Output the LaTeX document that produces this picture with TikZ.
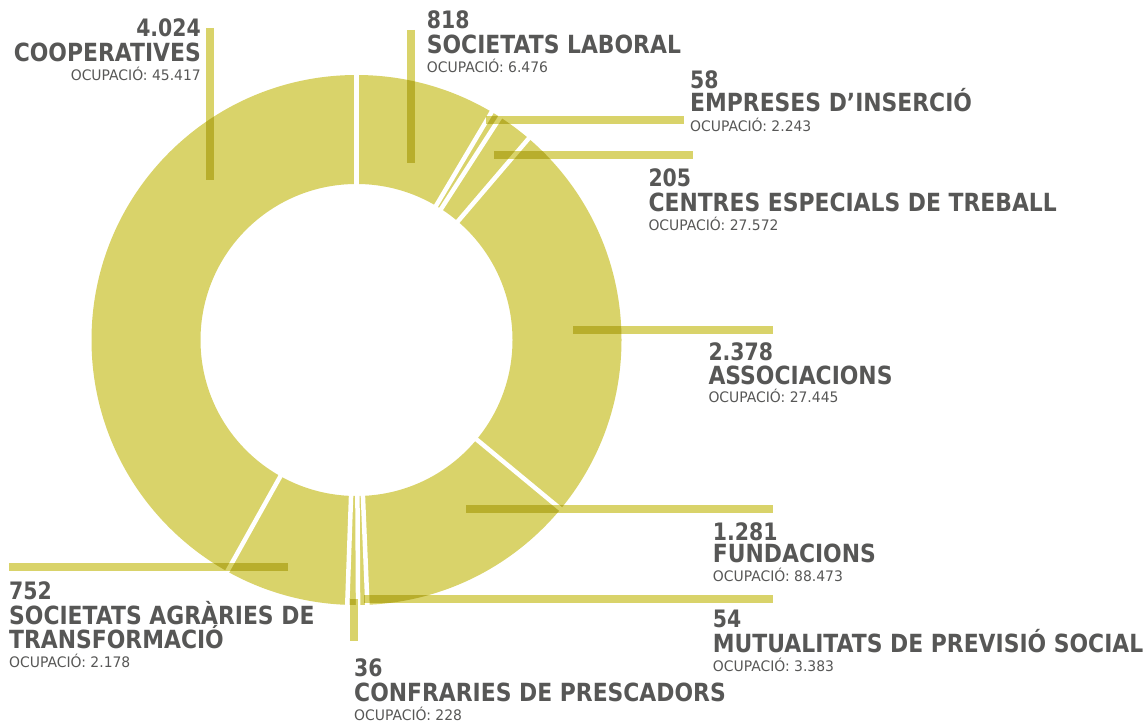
\documentclass[tikz,border=0pt]{standalone}
\usepackage{fontspec}
\newfontfamily\numfont[FakeStretch=0.85]{DejaVu Sans}
\newfontfamily\headfont[FakeStretch=0.875]{DejaVu Sans}
\newfontfamily\occfont[FakeStretch=0.96]{DejaVu Sans}
\definecolor{ess}{HTML}{D9D36A}
\definecolor{txt}{HTML}{575756}
\begin{document}
\begin{tikzpicture}[x=1pt,y=-1pt,
  numtxt/.style={inner sep=0pt, text=txt, font=\numfont\bfseries\fontsize{24}{24}\selectfont},
  nametxt/.style={inner sep=0pt, text=txt, font=\headfont\bfseries\fontsize{25}{25}\selectfont},
  occtxt/.style={inner sep=0pt, text=txt, font=\occfont\fontsize{14.5}{14.5}\selectfont},
  leader/.style={draw=ess, line width=8pt},
  gapline/.style={draw=white, line width=4.5pt}]
\useasboundingbox (0,0) rectangle (1143,722);
\coordinate (c) at (356.5,340);
% ring
\fill[ess, even odd rule] (c) circle[radius=265] (c) circle[radius=156];
% separators
\foreach \a in {0,30.656,32.83,40.51,129.63,177.64,179.66,182,209.19}
  \draw[gapline, shift={(c)}] (\a-90:153) -- (\a-90:268);
% leader line ends
\coordinate (coopA) at (209.5,28);   \coordinate (coopB) at (209.5,180);
\coordinate (labA) at (410.7,30);    \coordinate (labB) at (410.7,163);
\coordinate (empA) at (486,120.5);   \coordinate (empB) at (684,120.5);
\coordinate (cenA) at (494,154.7);   \coordinate (cenB) at (693,154.7);
\coordinate (assA) at (573,329.8);   \coordinate (assB) at (772.7,329.8);
\coordinate (funA) at (466,508.8);   \coordinate (funB) at (772.7,508.8);
\coordinate (mutA) at (364,599);     \coordinate (mutB) at (772.7,599);
\coordinate (conA) at (354,599);     \coordinate (conB) at (354,640.7);
\coordinate (agrA) at (288,567);     \coordinate (agrB) at (9,567);
\begin{scope}[blend mode=multiply]
  \draw[leader] (coopA) -- (coopB);
  \draw[leader] (labA) -- (labB);
  \draw[leader] (empA) -- (empB);
  \draw[leader] (cenA) -- (cenB);
  \draw[leader] (assA) -- (assB);
  \draw[leader] (funA) -- (funB);
  \draw[leader] (mutA) -- (mutB);
  \draw[leader] (conA) -- (conB);
  \draw[leader] (agrA) -- (agrB);
\end{scope}
% Cooperatives
\node[numtxt, anchor=base east] (coopN) at (201,36.7) {4.024};
\node[nametxt, anchor=base east] (coopT) at (201,61.7) {COOPERATIVES};
\node[occtxt, anchor=base east] (coopO) at (201,80.7) {OCUPACIÓ: 45.417};
% Societats laboral
\node[numtxt, anchor=base west] (labN) at (426.7,29) {818};
\node[nametxt, anchor=base west] (labT) at (426.7,53.5) {SOCIETATS LABORAL};
\node[occtxt, anchor=base west] (labO) at (426.7,72.7) {OCUPACIÓ: 6.476};
% Empreses d'inserció
\node[numtxt, anchor=base west] (empN) at (690,89) {58};
\node[nametxt, anchor=base west] (empT) at (690,112) {EMPRESES D’INSERCIÓ};
\node[occtxt, anchor=base west] (empO) at (690,131.5) {OCUPACIÓ: 2.243};
% Centres especials
\node[numtxt, anchor=base west] (cenN) at (648.3,186.7) {205};
\node[nametxt, anchor=base west] (cenT) at (648.3,211.7) {CENTRES ESPECIALS DE TREBALL};
\node[occtxt, anchor=base west] (cenO) at (648.3,230) {OCUPACIÓ: 27.572};
% Associacions
\node[numtxt, anchor=base west] (assN) at (708.3,360) {2.378};
\node[nametxt, anchor=base west] (assT) at (708.3,384) {ASSOCIACIONS};
\node[occtxt, anchor=base west] (assO) at (708.3,402) {OCUPACIÓ: 27.445};
% Fundacions
\node[numtxt, anchor=base west] (funN) at (712.7,540) {1.281};
\node[nametxt, anchor=base west] (funT) at (712.7,562.3) {FUNDACIONS};
\node[occtxt, anchor=base west] (funO) at (712.7,581.7) {OCUPACIÓ: 88.473};
% Mutualitats
\node[numtxt, anchor=base west] (mutN) at (712.7,627.7) {54};
\node[nametxt, anchor=base west] (mutT) at (712.7,652.3) {MUTUALITATS DE PREVISIÓ SOCIAL};
\node[occtxt, anchor=base west] (mutO) at (712.7,671.7) {OCUPACIÓ: 3.383};
% Confraries
\node[numtxt, anchor=base west] (conN) at (354,676.7) {36};
\node[nametxt, anchor=base west] (conT) at (354,701) {CONFRARIES DE PRESCADORS};
\node[occtxt, anchor=base west] (conO) at (354,720) {OCUPACIÓ: 228};
% Societats agràries
\node[numtxt, anchor=base west] (agrN) at (9,599.5) {752};
\node[nametxt, anchor=base west] (agrT) at (9,624.5) {SOCIETATS AGRÀRIES DE};
\node[nametxt, anchor=base west] (agrT2) at (9,648) {TRANSFORMACIÓ};
\node[occtxt, anchor=base west] (agrO) at (9,667.7) {OCUPACIÓ: 2.178};
\end{tikzpicture}
\end{document}
